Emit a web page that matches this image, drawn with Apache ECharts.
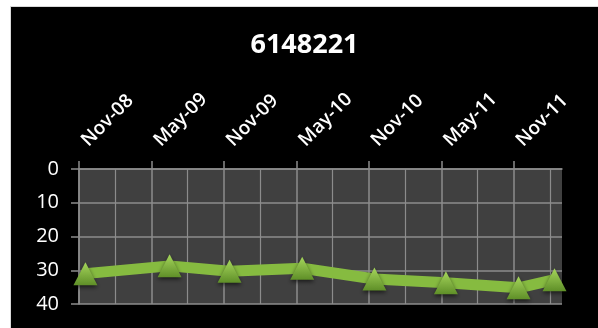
<!DOCTYPE html>
<html>
<head>
<meta charset="utf-8">
<script src="https://cdn.jsdelivr.net/npm/echarts@6/dist/echarts.min.js"></script>
<style>
  html, body { margin: 0; padding: 0; background: #ffffff; width: 598px; height: 328px; overflow: hidden; }
  #frame { position: absolute; left: 10px; top: 6px; width: 588px; height: 322px; background: #d9d9d9; }
  #chart { position: absolute; left: 11px; top: 7px; width: 587px; height: 321px; background: #000000; }
</style>
</head>
<body>
<div id="frame"></div>
<div id="chart"></div>
<script>
// Chart title
const chartTitle = '6148221';

// Measurement dates and readings (depth axis runs downward)
const sampleDates = ['2008-11-17', '2009-06-16', '2009-11-15', '2010-05-16', '2010-11-15', '2011-05-13', '2011-11-13', '2012-02-12'];
const readings = [31.0, 28.7, 30.3, 29.4, 32.6, 33.7, 35.2, 32.8];

// Half-year marks shown along the top axis
const tickDates = ['2008-11-01', '2009-05-01', '2009-11-01', '2010-05-01', '2010-11-01', '2011-05-01', '2011-11-01'];
const tickLabels = ['Nov-08', 'May-09', 'Nov-09', 'May-10', 'Nov-10', 'May-11', 'Nov-11'];
// Quarter marks between them
const minorDates = ['2009-02-01', '2009-08-01', '2010-02-01', '2010-08-01', '2011-02-01', '2011-08-01', '2012-02-01'];

const axisStart = '2008-11-01';
const axisEnd = '2012-03-01';

// Dates are placed on a month scale counted from the axis start
function monthPos(d) {
  const [y, m, day] = d.split('-').map(Number);
  const [y0, m0] = axisStart.split('-').map(Number);
  const daysInMonth = new Date(y, m, 0).getDate();
  return (y - y0) * 12 + (m - m0) + (day - 1) / daysInMonth;
}

const tickValues = tickDates.map(monthPos);
const minorValues = minorDates.map(monthPos);
const labelByValue = {};
tickValues.forEach((v, i) => { labelByValue[v] = tickLabels[i]; });

const gridColor = '#8c8c8c';
const font = '"Open Sans", "Liberation Sans", sans-serif';

const chart = echarts.init(document.getElementById('chart'), null, { renderer: 'canvas' });
chart.setOption({
  backgroundColor: '#000000',
  animation: false,
  title: {
    text: chartTitle,
    left: 'center',
    top: 20,
    textStyle: { color: '#ffffff', fontSize: 27, fontWeight: 'bold', fontFamily: font }
  },
  grid: {
    left: 68, top: 162, right: 36, bottom: 24,
    show: true, backgroundColor: '#404040', borderWidth: 0
  },
  xAxis: [
    {
      type: 'value',
      position: 'top',
      min: monthPos(axisStart),
      max: monthPos(axisEnd),
      axisLine: { show: true, lineStyle: { color: gridColor, width: 1.5 } },
      axisTick: { show: true, length: 8, inside: false, customValues: tickValues, lineStyle: { color: gridColor, width: 1.5 } },
      axisLabel: {
        show: true,
        customValues: tickValues,
        rotate: 45,
        margin: 20,
        padding: [0, 0, 0, 8],
        color: '#ffffff',
        fontSize: 19,
        fontWeight: 600,
        fontFamily: font,
        formatter: v => labelByValue[v] || ''
      },
      splitLine: { show: true, lineStyle: { color: gridColor, width: 1.5 } }
    },
    {
      type: 'value',
      min: monthPos(axisStart),
      max: monthPos(axisEnd),
      axisLine: { show: false },
      axisTick: { show: false, customValues: minorValues },
      axisLabel: { show: false, customValues: minorValues },
      splitLine: { show: true, lineStyle: { color: gridColor, width: 1.2 } }
    }
  ],
  yAxis: {
    type: 'value',
    inverse: true,
    min: 0,
    max: 40,
    interval: 10,
    axisLine: { show: true, lineStyle: { color: gridColor, width: 1.5 } },
    axisTick: { show: true, length: 8, lineStyle: { color: gridColor, width: 1.5 } },
    axisLabel: { color: '#ffffff', fontSize: 20, fontFamily: font, margin: 20 },
    splitLine: { show: true, lineStyle: { color: gridColor, width: 1.5 } }
  },
  series: [{
    type: 'line',
    xAxisIndex: 0,
    data: sampleDates.map((d, i) => [monthPos(d), readings[i]]),
    lineStyle: { color: '#86bb40', width: 11 },
    symbol: 'triangle',
    symbolSize: [24, 23],
    itemStyle: {
      color: new echarts.graphic.LinearGradient(0, 0, 0, 1, [
        { offset: 0, color: '#a6d65c' },
        { offset: 1, color: '#5f8f28' }
      ]),
      shadowColor: 'rgba(0,0,0,0.6)',
      shadowBlur: 4,
      shadowOffsetY: 2
    },
    z: 5
  }]
});
</script>
</body>
</html>
